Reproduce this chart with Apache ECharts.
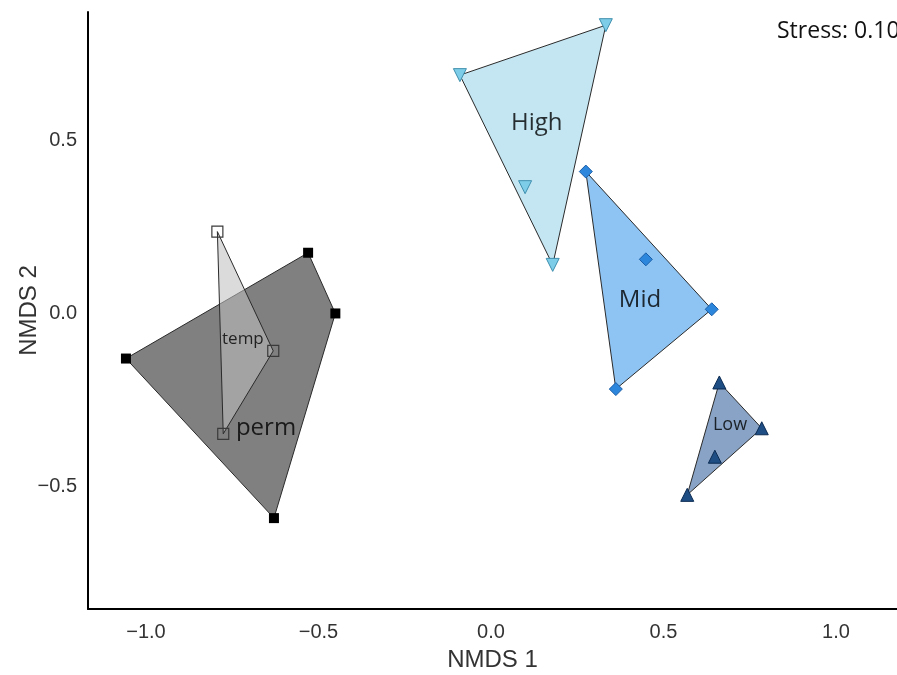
<!DOCTYPE html>
<html>
<head>
<meta charset="utf-8">
<script src="https://cdn.jsdelivr.net/npm/echarts@6/dist/echarts.min.js"></script>
<style>
  html, body { margin: 0; padding: 0; background: #fff; }
  #chart { width: 897px; height: 675px; }
</style>
</head>
<body>
<div id="chart"></div>
<script>
// NMDS ordination scores per group (NMDS 1 = x, NMDS 2 = y)
const permX = [-1.058, -0.530, -0.451, -0.629];
const permY = [-0.130, 0.175, 0.000, -0.590];
const tempX = [-0.793, -0.631, -0.776];
const tempY = [0.236, -0.108, -0.347];
const highX = [-0.090, 0.333, 0.179, 0.099];
const highY = [0.687, 0.831, 0.140, 0.364];
const midX = [0.275, 0.640, 0.362, 0.449];
const midY = [0.409, 0.012, -0.218, 0.156];
const lowX = [0.662, 0.785, 0.649, 0.569];
const lowY = [-0.199, -0.331, -0.413, -0.523];

// Group names and where each name is written (data coordinates)
const groupNames = ['perm', 'temp', 'High', 'Mid', 'Low'];
const nameX = [-0.652, -0.719, 0.133, 0.432, 0.693];
const nameY = [-0.330, -0.073, 0.550, 0.039, -0.321];

const stressValue = 0.10;

// Monotone-chain convex hull
function convexHull(pts) {
  const p = pts.slice().sort((a, b) => a[0] - b[0] || a[1] - b[1]);
  const cross = (o, a, b) => (a[0] - o[0]) * (b[1] - o[1]) - (a[1] - o[1]) * (b[0] - o[0]);
  const lower = [];
  for (const q of p) {
    while (lower.length >= 2 && cross(lower[lower.length - 2], lower[lower.length - 1], q) <= 0) lower.pop();
    lower.push(q);
  }
  const upper = [];
  for (let i = p.length - 1; i >= 0; i--) {
    const q = p[i];
    while (upper.length >= 2 && cross(upper[upper.length - 2], upper[upper.length - 1], q) <= 0) upper.pop();
    upper.push(q);
  }
  upper.pop(); lower.pop();
  return lower.concat(upper);
}

const toPts = (xs, ys) => xs.map((x, i) => [x, ys[i]]);

function hullSeries(xs, ys, fill, z) {
  const hull = convexHull(toPts(xs, ys));
  return {
    type: 'custom',
    coordinateSystem: 'cartesian2d',
    data: hull,
    z: z,
    silent: true,
    renderItem: function (params, api) {
      if (params.dataIndex !== 0) return;
      return {
        type: 'polygon',
        shape: { points: hull.map(p => api.coord(p)) },
        style: { fill: fill, stroke: '#2a2a2a', lineWidth: 1 }
      };
    }
  };
}

function pointSeries(xs, ys, opts) {
  const s = Object.assign({
    type: 'scatter',
    data: toPts(xs, ys),
    z: 10,
    silent: true
  }, opts);
  s.itemStyle = Object.assign({ opacity: 1 }, opts.itemStyle);
  return s;
}

const tickFmt = v => {
  const r = Math.round(v * 2) / 2;
  if (Math.abs(r - v) > 1e-6) return '';
  return (r < 0 ? '\u2212' : '') + Math.abs(r).toFixed(1);
};

const axisCommon = {
  type: 'value',
  nameLocation: 'middle',
  nameTextStyle: { fontFamily: 'Liberation Sans', fontSize: 24, color: '#333' },
  axisLine: { show: true, onZero: false, lineStyle: { color: '#000', width: 2 } },
  axisTick: { show: false },
  splitLine: { show: false },
  axisLabel: { fontFamily: 'Liberation Sans', fontSize: 20, color: '#333', formatter: tickFmt, showMinLabel: false, showMaxLabel: false }
};

const chart = echarts.init(document.getElementById('chart'), null, { renderer: 'canvas' });
chart.setOption({
  animation: false,
  backgroundColor: '#fff',
  grid: { left: 88, right: 0, top: 12, bottom: 66, containLabel: false, outerBoundsMode: 'none' },
  xAxis: Object.assign({}, axisCommon, {
    name: 'NMDS 1', nameGap: 39, min: -1.168, max: 1.177, splitNumber: 5,
    axisLabel: Object.assign({}, axisCommon.axisLabel, { margin: 13 })
  }),
  yAxis: Object.assign({}, axisCommon, {
    name: 'NMDS 2', nameGap: 47, min: -0.852, max: 0.869, splitNumber: 3,
    nameMoveOverlap: false,
    axisLabel: Object.assign({}, axisCommon.axisLabel, { margin: 11 })
  }),
  graphic: [{
    type: 'text', left: 777, top: 20,
    style: { text: 'Stress: ' + stressValue.toFixed(2), fontFamily: 'Open Sans', fontSize: 23, fill: '#111' }
  }],
  series: [
    hullSeries(permX, permY, '#808080', 1),
    hullSeries(tempX, tempY, 'rgba(190,190,190,0.56)', 2),
    hullSeries(highX, highY, '#c4e6f3', 1),
    hullSeries(midX, midY, '#8ec4f3', 1),
    hullSeries(lowX, lowY, '#88a3c5', 1),
    pointSeries(permX, permY, { symbol: 'rect', symbolSize: 10, itemStyle: { color: '#000' } }),
    pointSeries(tempX, tempY, { symbol: 'rect', symbolSize: 11, itemStyle: { color: 'rgba(0,0,0,0)', borderColor: '#3a3a3a', borderWidth: 1.2 } }),
    pointSeries(highX, highY, { symbol: 'triangle', symbolRotate: 180, symbolSize: 13, itemStyle: { color: '#7ecde8', borderColor: '#3f8fae', borderWidth: 1 } }),
    pointSeries(midX, midY, { symbol: 'diamond', symbolSize: 13, itemStyle: { color: '#2b86dc', borderColor: '#1a5ea8', borderWidth: 1 } }),
    pointSeries(lowX, lowY, { symbol: 'triangle', symbolSize: 13, itemStyle: { color: '#1f4e85', borderColor: '#0b2b52', borderWidth: 1 } }),
    {
      type: 'scatter',
      z: 20,
      silent: true,
      symbolSize: 1,
      itemStyle: { color: 'rgba(0,0,0,0)' },
      data: groupNames.map((n, i) => ({
        value: [nameX[i], nameY[i]],
        name: n,
        label: { fontSize: (n === 'temp' ? 17 : (n === 'Low' ? 18 : 24)) }
      })),
      label: {
        show: true, position: 'inside', formatter: '{b}',
        fontFamily: 'Open Sans', color: '#000'
      }
    }
  ]
});
</script>
</body>
</html>
